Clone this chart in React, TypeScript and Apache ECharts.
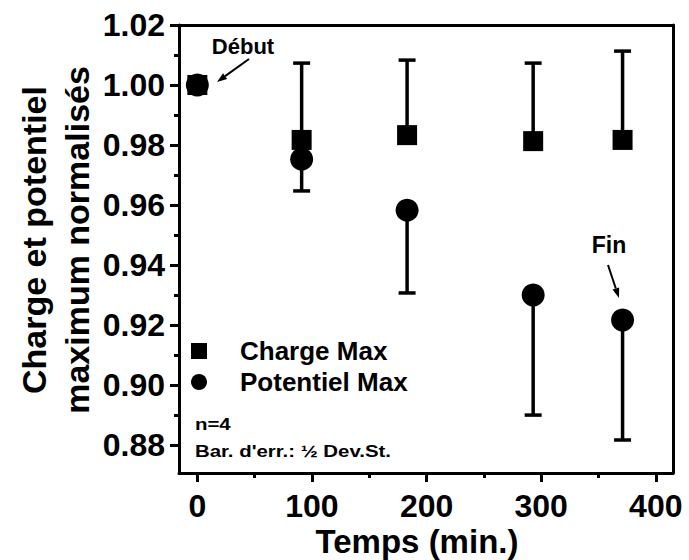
import React, { useEffect, useRef } from "react";
import * as echarts from "echarts";

// ---- data ----
const times = [0, 91, 183, 293, 371];
const chargeMax = [1.0, 0.9817, 0.9833, 0.9813, 0.9817];
const chargeErr = [0, 0.0256, 0.025, 0.026, 0.0296];
const potentielMax = [1.0, 0.9753, 0.9583, 0.93, 0.9217];
const potentielErr = [0, 0.0106, 0.0276, 0.04, 0.04];

const xTickLabels = [0, 100, 200, 300, 400];
const xMinorTicks = [50, 150, 250, 350];
const yTickLabels = [0.88, 0.9, 0.92, 0.94, 0.96, 0.98, 1.0, 1.02];
const yMinorTicks = [0.89, 0.91, 0.93, 0.95, 0.97, 0.99, 1.01];

const X_MIN = -16;
const X_MAX = 415;
const Y_MIN = 0.8707;
const Y_MAX = 1.02;

const FONT = "'Liberation Sans', Arial, Helvetica, sans-serif";

function errorBarSeries(name: string, values: number[], errs: number[], dir: number) {
  return {
    type: "custom",
    name,
    xAxisIndex: 0,
    yAxisIndex: 0,
    silent: true,
    z: 1,
    data: times.map((t, i) => [t, values[i], errs[i]]),
    encode: { x: 0, y: 1 },
    renderItem: (_params: any, api: any) => {
      const x = api.value(0);
      const y = api.value(1);
      const e = api.value(2);
      if (!e) return { type: "group", children: [] };
      const p0 = api.coord([x, y]);
      const p1 = api.coord([x, y + dir * e]);
      const hw = 8.5;
      return {
        type: "group",
        children: [
          {
            type: "line",
            shape: { x1: p0[0], y1: p0[1], x2: p1[0], y2: p1[1] },
            style: { stroke: "#000", lineWidth: 3.5 },
          },
          {
            type: "line",
            shape: { x1: p1[0] - hw, y1: p1[1], x2: p1[0] + hw, y2: p1[1] },
            style: { stroke: "#000", lineWidth: 3.5 },
          },
        ],
      };
    },
  };
}

function arrow(x1: number, y1: number, x2: number, y2: number) {
  const dx = x2 - x1;
  const dy = y2 - y1;
  const len = Math.sqrt(dx * dx + dy * dy);
  const ux = dx / len;
  const uy = dy / len;
  const hl = 10;
  const hw = 3.5;
  const bx = x2 - ux * hl;
  const by = y2 - uy * hl;
  return [
    {
      type: "line",
      shape: { x1, y1, x2: bx, y2: by },
      style: { stroke: "#000", lineWidth: 2 },
    },
    {
      type: "polygon",
      shape: {
        points: [
          [x2, y2],
          [bx - uy * hw, by + ux * hw],
          [bx + uy * hw, by - ux * hw],
        ],
      },
      style: { fill: "#000" },
    },
  ];
}

const axisBlack = { color: "#000", width: 3 };

export default function App() {
  const ref = useRef<HTMLDivElement>(null);

  useEffect(() => {
    if (!ref.current) return;
    const chart = echarts.init(ref.current, null, { renderer: "svg" });
    const option: any = {
      animation: false,
      backgroundColor: "#fff",
      textStyle: { fontFamily: FONT, color: "#000" },
      grid: { left: 179, right: 16, top: 25, bottom: 87, containLabel: false, outerBoundsMode: "none" },
      xAxis: [
        {
          type: "value",
          min: X_MIN,
          max: X_MAX,
          position: "bottom",
          axisLine: { onZero: false, lineStyle: axisBlack },
          axisTick: { customValues: xTickLabels, length: 9, lineStyle: axisBlack },
          axisLabel: {
            customValues: xTickLabels,
            margin: 17,
            fontSize: 32,
            fontWeight: "bold",
            fontFamily: FONT,
            color: "#000",
          },
          splitLine: { show: false },
        },
        {
          type: "value",
          min: X_MIN,
          max: X_MAX,
          position: "bottom",
          offset: 0,
          axisLine: { show: false, onZero: false },
          axisTick: { customValues: xMinorTicks, length: 5, lineStyle: axisBlack },
          axisLabel: { show: false },
          splitLine: { show: false },
        },
        {
          type: "value",
          min: X_MIN,
          max: X_MAX,
          position: "top",
          axisLine: { onZero: false, lineStyle: axisBlack },
          axisTick: { show: false },
          axisLabel: { show: false },
          splitLine: { show: false },
        },
      ],
      yAxis: [
        {
          type: "value",
          min: Y_MIN,
          max: Y_MAX,
          position: "left",
          axisLine: { onZero: false, lineStyle: axisBlack },
          axisTick: { customValues: yTickLabels, length: 9, lineStyle: axisBlack },
          axisLabel: {
            customValues: yTickLabels,
            margin: 14,
            fontSize: 32,
            fontWeight: "bold",
            fontFamily: FONT,
            color: "#000",
            formatter: (v: number) => v.toFixed(2),
          },
          splitLine: { show: false },
        },
        {
          type: "value",
          min: Y_MIN,
          max: Y_MAX,
          position: "left",
          offset: 0,
          axisLine: { show: false, onZero: false },
          axisTick: { customValues: yMinorTicks, length: 5, lineStyle: axisBlack },
          axisLabel: { show: false },
          splitLine: { show: false },
        },
        {
          type: "value",
          min: Y_MIN,
          max: Y_MAX,
          position: "right",
          axisLine: { onZero: false, lineStyle: axisBlack },
          axisTick: { show: false },
          axisLabel: { show: false },
          splitLine: { show: false },
        },
      ],
      legend: {
        orient: "vertical",
        left: 191,
        top: 338,
        padding: 0,
        itemWidth: 16,
        itemHeight: 16,
        itemGap: 5,
        selectedMode: false,
        itemStyle: { opacity: 1, color: "#000" },
        data: [
          { name: "Charge Max", icon: "rect" },
          { name: "Potentiel Max", icon: "circle" },
        ],
        textStyle: {
          fontSize: 26,
          fontWeight: "bold",
          fontFamily: FONT,
          color: "#000",
          lineHeight: 16,
          padding: [0, 0, 0, 28],
        },
      },
      series: [
        errorBarSeries("Charge Max erreur", chargeMax, chargeErr, 1),
        errorBarSeries("Potentiel Max erreur", potentielMax, potentielErr, -1),
        {
          type: "scatter",
          name: "Charge Max",
          xAxisIndex: 0,
          yAxisIndex: 0,
          symbol: "rect",
          symbolSize: 20,
          itemStyle: { color: "#000", opacity: 1 },
          z: 3,
          data: times.map((t, i) => [t, chargeMax[i]]),
        },
        {
          type: "scatter",
          name: "Potentiel Max",
          xAxisIndex: 0,
          yAxisIndex: 0,
          symbol: "circle",
          symbolSize: 23,
          itemStyle: { color: "#000", opacity: 1 },
          z: 4,
          data: times.map((t, i) => [t, potentielMax[i]]),
        },
      ],
      graphic: [
        {
          type: "text",
          x: 55,
          y: 240,
          rotation: Math.PI / 2,
          style: {
            text: "Charge et potentiel\nmaximum normalisés",
            fontSize: 34,
            fontWeight: "bold",
            fontFamily: FONT,
            lineHeight: 43,
            align: "center",
            verticalAlign: "middle",
            fill: "#000",
          },
        },
        {
          type: "text",
          x: 417,
          y: 541,
          style: {
            text: "Temps (min.)",
            fontSize: 33,
            fontWeight: "bold",
            fontFamily: FONT,
            align: "center",
            verticalAlign: "middle",
            fill: "#000",
          },
        },
        {
          type: "text",
          x: 243,
          y: 46,
          style: {
            text: "Début",
            fontSize: 22,
            fontWeight: "bold",
            fontFamily: FONT,
            align: "center",
            verticalAlign: "middle",
            fill: "#000",
          },
        },
        ...arrow(249, 59, 217, 82),
        {
          type: "text",
          x: 609,
          y: 245,
          style: {
            text: "Fin",
            fontSize: 23,
            fontWeight: "bold",
            fontFamily: FONT,
            align: "center",
            verticalAlign: "middle",
            fill: "#000",
          },
        },
        ...arrow(608, 265, 619, 298),
        {
          type: "text",
          x: 195,
          y: 424,
          scaleX: 1.2,
          style: {
            text: "n=4",
            fontSize: 17,
            fontWeight: "bold",
            fontFamily: FONT,
            align: "left",
            verticalAlign: "middle",
            fill: "#000",
          },
        },
        {
          type: "text",
          x: 195,
          y: 451,
          scaleX: 1.2,
          style: {
            text: "Bar. d'err.: ½ Dev.St.",
            fontSize: 17,
            fontWeight: "bold",
            fontFamily: FONT,
            align: "left",
            verticalAlign: "middle",
            fill: "#000",
          },
        },
      ],
    };
    chart.setOption(option);
    return () => {
      chart.dispose();
    };
  }, []);

  return (
    <div
      ref={ref}
      style={{ position: "absolute", left: 0, top: 0, width: 689, height: 560, background: "#fff" }}
    />
  );
}
